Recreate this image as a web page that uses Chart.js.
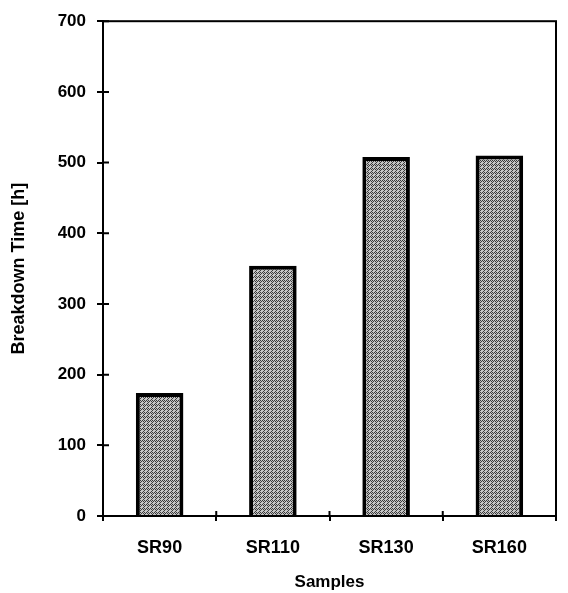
<!DOCTYPE html>
<html>
<head>
<meta charset="utf-8">
<script src="https://cdn.jsdelivr.net/npm/chart.js@4"></script>
<style>
  html, body { margin: 0; padding: 0; background: #fff; }
  #wrap { width: 568px; height: 593px; }
</style>
</head>
<body>
<div id="wrap"><canvas id="c"></canvas></div>
<script>
// values
const samples = ['SR90', 'SR110', 'SR130', 'SR160'];
const breakdownHours = [174, 354, 508, 510];
const yTicks = [0, 100, 200, 300, 400, 500, 600, 700];

// dotted grey fill like the scanned halftone
function halftone() {
  const p = document.createElement('canvas');
  p.width = 4; p.height = 4;
  const g = p.getContext('2d');
  g.fillStyle = '#c4c4c4';
  g.fillRect(0, 0, 4, 4);
  g.fillStyle = '#3a3a3a';
  g.fillRect(0, 0, 1, 1); g.fillRect(2, 0, 1, 1);
  g.fillRect(1, 1, 1, 1); g.fillRect(3, 1, 1, 1);
  g.fillRect(0, 2, 1, 1);
  g.fillRect(3, 3, 1, 1);
  return g.createPattern(p, 'repeat');
}

// frame round the plot + tick marks that reach into the plot
const frame = {
  id: 'frame',
  afterDraw(chart) {
    const ctx = chart.ctx, a = chart.chartArea;
    const xs = chart.scales.x, ys = chart.scales.y;
    ctx.save();
    ctx.strokeStyle = '#000';
    ctx.lineWidth = 2;
    ctx.strokeRect(a.left, a.top, a.right - a.left, a.bottom - a.top);
    ctx.beginPath();
    yTicks.forEach(v => {
      const y = ys.getPixelForValue(v);
      ctx.moveTo(a.left, y); ctx.lineTo(a.left + 6, y);
    });
    for (let i = 1; i < samples.length; i++) {
      const x = (xs.getPixelForValue(i - 1) + xs.getPixelForValue(i)) / 2;
      ctx.moveTo(x, a.bottom); ctx.lineTo(x, a.bottom - 5);
    }
    ctx.stroke();
    ctx.restore();
  }
};

const font = 'Liberation Sans, Arial, sans-serif';

new Chart(document.getElementById('c'), {
  type: 'bar',
  data: {
    labels: samples,
    datasets: [{
      data: breakdownHours,
      backgroundColor: halftone(),
      borderColor: '#000',
      borderWidth: 4,
      categoryPercentage: 1,
      barPercentage: 0.42
    }]
  },
  options: {
    responsive: true,
    maintainAspectRatio: false,
    animation: false,
    layout: { padding: { left: 6, top: 11, right: 12, bottom: 0 } },
    plugins: { legend: { display: false }, tooltip: { enabled: false } },
    scales: {
      y: {
        min: 0, max: 700,
        afterBuildTicks: s => { s.ticks = yTicks.map(v => ({ value: v })); },
        afterFit: s => { s.width = 97; },
        ticks: { color: '#000', padding: 11, font: { family: font, size: 17, weight: 'bold' } },
        grid: { drawOnChartArea: false, color: '#000', tickLength: 6, lineWidth: 2 },
        border: { color: '#000', width: 2 },
        title: {
          display: true, text: 'Breakdown Time [h]', color: '#000',
          font: { family: font, size: 18, weight: 'bold' }, padding: { top: 2, bottom: 0 }
        }
      },
      x: {
        afterFit: s => { s.height = 77; },
        ticks: { color: '#000', padding: 16, font: { family: font, size: 18, weight: 'bold' } },
        grid: { offset: true, drawOnChartArea: false, color: '#000', tickLength: 5, lineWidth: 2 },
        border: { color: '#000', width: 2 },
        title: {
          display: true, text: 'Samples', color: '#000',
          font: { family: font, size: 17, weight: 'bold' }, padding: { top: 0, bottom: 0 }
        }
      }
    }
  },
  plugins: [frame]
});
</script>
</body>
</html>
